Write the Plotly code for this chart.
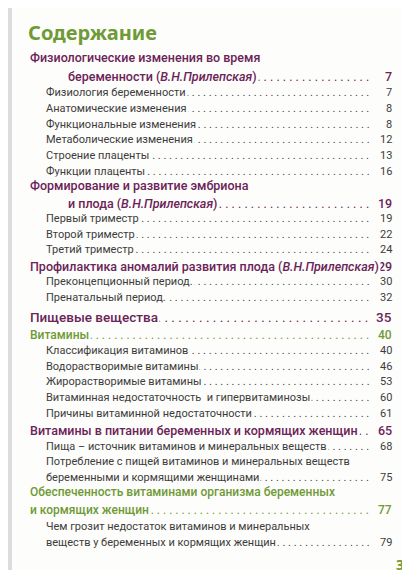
import re
import plotly.graph_objects as go

texts = [
 "Физиологические изменения во время", "беременности (<i>В.Н.Прилепская</i>)",
 "Физиология беременности", "Анатомические изменения", "Функциональные изменения",
 "Метаболические изменения", "Строение плаценты", "Функции плаценты",
 "Формирование и развитие эмбриона", "и плода (<i>В.Н.Прилепская</i>)",
 "Первый триместр", "Второй триместр", "Третий триместр",
 "Профилактика аномалий развития плода (<i>В.Н.Прилепская</i>)",
 "Преконцепционный период.", "Пренатальный период.",
 "Пищевые вещества", "Витамины",
 "Классификация витаминов", "Водорастворимые витамины", "Жирорастворимые витамины",
 "Витаминная недостаточность  и гипервитаминозы", "Причины витаминной недостаточности",
 "Витамины в питании беременных и кормящих женщин",
 "Пища – источник витаминов и минеральных веществ",
 "Потребление с пищей витаминов и минеральных веществ", "беременными и кормящими женщинами",
 "Обеспеченность витаминами организма беременных", "и кормящих женщин",
 "Чем грозит недостаток витаминов и минеральных", "веществ у беременных и кормящих женщин",
]
pages = ["", "7", "7", "8", "8", "12", "13", "16", "", "19", "19", "22", "24", "29", "30", "32",
         "35", "40", "40", "46", "53", "60", "61", "65", "68", "", "75", "", "77", "", "79"]
kinds = ["h", "hc", "s", "s", "s", "s", "s", "s", "h", "hc", "s", "s", "s", "h", "s", "s",
         "H", "g", "s", "s", "s", "s", "s", "h", "s", "s", "s", "g", "gc", "s", "s"]
rows_y = [49, 68, 84, 100, 116, 131, 147, 163, 177, 195, 210, 226, 241, 258, 273, 289,
          309, 327, 342, 358, 373, 389, 405, 422, 438, 453, 469, 484, 502, 518, 534]

PURPLE = "#6b2358"
GREEN = "#6f9a36"
GREY = "#3c3c3c"
FONT = "Roboto"
BG = "#fdfdfb"
style = {
    "h": (PURPLE, 12.5, 20), "hc": (PURPLE, 12.5, 58), "H": (PURPLE, 13.5, 20),
    "g": (GREEN, 12, 20), "gc": (GREEN, 12, 20), "s": (GREY, 11, 36),
}

anns = []
NUM_X = 386
DOT_END = 366
for t, p, k, y in zip(texts, pages, kinds, rows_y):
    col, size, x0 = style[k]
    bold = k != "s"
    weight = 500 if bold else 400
    if p:
        plain = re.sub("<[^>]+>", "", t)
        end = x0 + len(plain) * size * 0.5
        n = max(0, int((DOT_END - end) / (size * 0.5)) + 1)
        anns.append(dict(x=DOT_END, y=y, text=". " * n, xanchor="right", yanchor="middle",
                         showarrow=False, font=dict(family=FONT, size=size, color=col)))
        anns.append(dict(x=NUM_X, y=y, text=p, xanchor="right",
                         yanchor="middle", showarrow=False,
                         font=dict(family=FONT, size=size, color=col, weight=weight)))
    anns.append(dict(x=x0, y=y, text=t, xanchor="left",
                     yanchor="middle", showarrow=False, bgcolor=BG, borderpad=1,
                     font=dict(family=FONT, size=size, color=col, weight=weight)))

anns.append(dict(x=18, y=24, text="<b>Содержание</b>", xanchor="left", yanchor="middle",
                 showarrow=False, font=dict(family="Noto Sans", size=20, color=GREEN)))
anns.append(dict(x=398, y=556, text="<b>3</b>", xanchor="right", yanchor="middle",
                 showarrow=False, font=dict(family="Noto Sans", size=14, color=GREEN)))

fig = go.Figure()
fig.update_layout(
    width=410, height=570, margin=dict(l=0, r=0, t=0, b=0),
    paper_bgcolor=BG, plot_bgcolor=BG,
    xaxis=dict(range=[0, 410], visible=False, fixedrange=True),
    yaxis=dict(range=[570, 0], visible=False, fixedrange=True),
    annotations=anns, showlegend=False,
    shapes=[dict(type="rect", xref="x", yref="y", x0=0, x1=4, y0=0, y1=570,
                 fillcolor="#dcdcdc", line_width=0, layer="below")],
)
fig.write_html("out.html")
